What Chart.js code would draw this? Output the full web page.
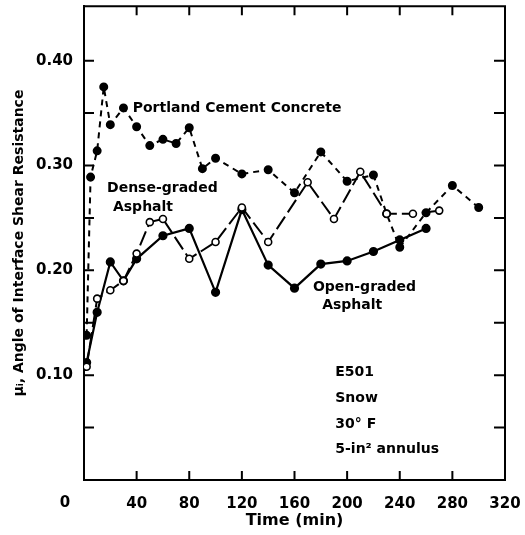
<!DOCTYPE html>
<html>
<head>
<meta charset="utf-8">
<script src="https://cdn.jsdelivr.net/npm/chart.js@4.4.0/dist/chart.umd.min.js"></script>
<style>
  html, body { margin: 0; padding: 0; background: #fff; }
  #wrap { width: 525px; height: 535px; }
</style>
</head>
<body>
<div id="wrap"><canvas id="chart"></canvas></div>
<script>
// tick values
const xTicks = [0, 40, 80, 120, 160, 200, 240, 280, 320];
const yTicks = [0.05, 0.10, 0.15, 0.20, 0.25, 0.30, 0.35, 0.40];
const yLabelled = [0.10, 0.20, 0.30, 0.40];

// Portland Cement Concrete (short dashes, filled dots)
const pccTime = [2, 5, 10, 15, 20, 30, 40, 50, 60, 70, 80, 90, 100, 120, 140, 160, 180, 200, 220, 230, 240, 260, 280, 300];
const pccMu = [0.138, 0.289, 0.314, 0.375, 0.339, 0.355, 0.337, 0.319, 0.325, 0.321, 0.336, 0.297, 0.307, 0.292, 0.296, 0.274, 0.313, 0.285, 0.291, 0.254, 0.222, 0.255, 0.281, 0.26];

// Dense-graded Asphalt (long dashes, open circles)
const denseTime = [2, 10, 20, 30, 40, 50, 60, 80, 100, 120, 140, 170, 190, 210, 230, 250, 270];
const denseMu = [0.108, 0.173, 0.181, 0.19, 0.216, 0.246, 0.249, 0.211, 0.227, 0.26, 0.227, 0.284, 0.249, 0.294, 0.254, 0.254, 0.257];

// Open-graded Asphalt (solid, filled dots)
const openTime = [2, 10, 20, 30, 40, 60, 80, 100, 120, 140, 160, 180, 200, 220, 240, 260];
const openMu = [0.112, 0.16, 0.208, 0.19, 0.211, 0.233, 0.24, 0.179, 0.258, 0.205, 0.183, 0.206, 0.209, 0.218, 0.229, 0.24];

function pairs(xs, ys) {
  return xs.map(function (x, i) {
    return { x: x, y: ys[i] };
  });
}

const FONT = "'DejaVu Sans', sans-serif";

// frame on top/right, inward tick marks, and the text notes inside the plot
const framePlugin = {
  id: "frame",
  afterDraw(chart) {
    const ctx = chart.ctx;
    const a = chart.chartArea;
    const xs = chart.scales.x;
    const ys = chart.scales.y;
    ctx.save();
    ctx.strokeStyle = "#000";
    ctx.lineWidth = 2;
    ctx.beginPath();
    ctx.moveTo(a.left, a.top);
    ctx.lineTo(a.right, a.top);
    ctx.lineTo(a.right, a.bottom);
    xs.ticks.forEach(function (t) {
      const px = xs.getPixelForValue(t.value);
      if (px <= a.left + 1 || px >= a.right - 1) return;
      ctx.moveTo(px, a.bottom);
      ctx.lineTo(px, a.bottom - 9);
      ctx.moveTo(px, a.top);
      ctx.lineTo(px, a.top + 9);
    });
    ys.ticks.forEach(function (t) {
      const py = ys.getPixelForValue(t.value);
      ctx.moveTo(a.left, py);
      ctx.lineTo(a.left + 10, py);
      ctx.moveTo(a.right, py);
      ctx.lineTo(a.right - 11, py);
    });
    ctx.stroke();

    ctx.fillStyle = "#000";
    ctx.textBaseline = "middle";
    ctx.textAlign = "left";
    ctx.font = "bold 14px " + FONT;
    const notes = [
      ["Portland Cement Concrete", 37, 0.355],
      ["Dense-graded", 17.5, 0.278],
      ["Asphalt", 22, 0.26],
      ["Open-graded", 174, 0.184],
      ["Asphalt", 181, 0.167],
      ["E501", 191, 0.103],
      ["Snow", 191, 0.078],
      ["30\u00b0 F", 191, 0.053],
      ["5-in\u00b2 annulus", 191, 0.0295],
    ];
    notes.forEach(function (n) {
      ctx.fillText(n[0], xs.getPixelForValue(n[1]), ys.getPixelForValue(n[2]));
    });

    // origin label sits at the corner
    ctx.font = "bold 15px " + FONT;
    ctx.textAlign = "center";
    ctx.fillText("0", a.left - 19, a.bottom + 23);
    ctx.restore();
  },
};

new Chart(document.getElementById("chart"), {
  type: "scatter",
  data: {
    datasets: [
      {
        label: "Dense-graded Asphalt",
        data: pairs(denseTime, denseMu),
        showLine: true,
        borderColor: "#000",
        borderWidth: 2,
        borderDash: [15, 5],
        pointRadius: 3.5,
        pointBorderWidth: 1.6,
        pointBackgroundColor: "#fff",
        pointBorderColor: "#000",
      },
      {
        label: "Open-graded Asphalt",
        data: pairs(openTime, openMu),
        showLine: true,
        borderColor: "#000",
        borderWidth: 2.2,
        pointRadius: 3.5,
        pointBackgroundColor: "#000",
        pointBorderColor: "#000",
      },
      {
        label: "Portland Cement Concrete",
        data: pairs(pccTime, pccMu),
        showLine: true,
        borderColor: "#000",
        borderWidth: 2,
        borderDash: [6, 5],
        pointRadius: 3.5,
        pointBackgroundColor: "#000",
        pointBorderColor: "#000",
      },
    ],
  },
  options: {
    responsive: true,
    maintainAspectRatio: false,
    animation: false,
    layout: { padding: { top: 5, right: 20, left: 0, bottom: 0 } },
    plugins: {
      legend: { display: false },
      tooltip: { enabled: false },
    },
    scales: {
      x: {
        type: "linear",
        min: 0,
        max: 320,
        afterBuildTicks: function (scale) {
          scale.ticks = xTicks.map(function (v) {
            return { value: v };
          });
        },
        afterFit: function (scale) {
          scale.height = 55;
          scale.paddingLeft = 0;
          scale.paddingRight = 0;
        },
        grid: { display: false, drawTicks: false },
        border: { display: true, color: "#000", width: 2 },
        ticks: {
          color: "#000",
          padding: 15,
          maxRotation: 0,
          font: { family: FONT, size: 15, weight: "bold" },
          callback: function (v) {
            return v === 0 ? "" : String(v);
          },
        },
        title: {
          display: true,
          text: "Time (min)",
          color: "#000",
          font: { family: FONT, size: 16, weight: "bold" },
          padding: { top: 0, bottom: 5 },
        },
      },
      y: {
        type: "linear",
        min: 0,
        max: 0.452,
        afterBuildTicks: function (scale) {
          scale.ticks = yTicks.map(function (v) {
            return { value: v };
          });
        },
        afterFit: function (scale) {
          scale.width = 84;
          scale.paddingTop = 0;
          scale.paddingBottom = 0;
        },
        grid: { display: false, drawTicks: false },
        border: { display: true, color: "#000", width: 2 },
        ticks: {
          color: "#000",
          padding: 11,
          font: { family: FONT, size: 15, weight: "bold" },
          callback: function (v) {
            const hit = yLabelled.some(function (l) {
              return Math.abs(l - v) < 1e-6;
            });
            return hit ? v.toFixed(2) : "";
          },
        },
        title: {
          display: true,
          text: "\u03bc\u1d62, Angle of Interface Shear Resistance",
          color: "#000",
          font: { family: FONT, size: 14, weight: "bold" },
          padding: { top: 11, bottom: 0 },
        },
      },
    },
  },
  plugins: [framePlugin],
});
</script>
</body>
</html>
